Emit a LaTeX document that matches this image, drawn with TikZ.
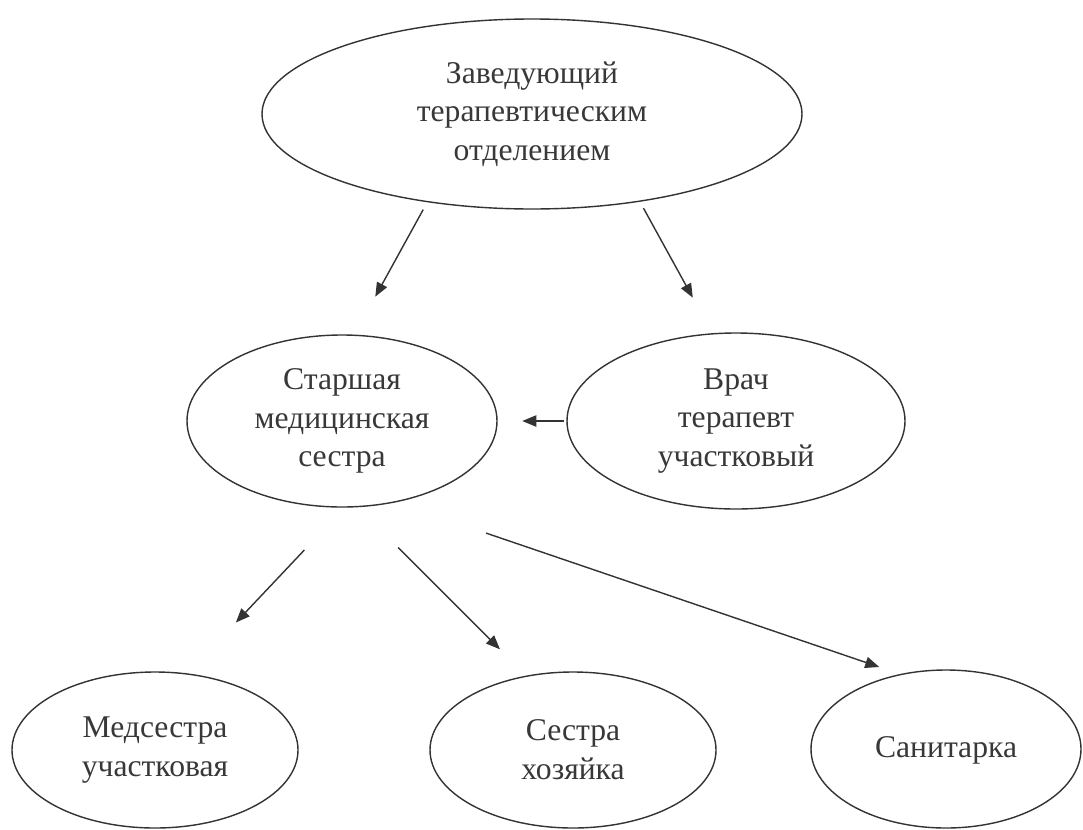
\documentclass[tikz,border=0pt]{standalone}
\usepackage{fontspec}
\setmainfont{Liberation Serif}
\usetikzlibrary{shapes.geometric,arrows.meta}

\begin{document}
\begin{tikzpicture}[x=0.025cm,y=-0.025cm,
    oval/.style={draw=black!80,line width=1pt,ellipse,inner sep=0pt,outer sep=0pt,
        align=center,text=black!78,font=\fontsize{22.5}{27.5}\selectfont},
    arr/.style={draw=black!80,line width=1pt,-{Triangle[length=10pt,width=8pt]}}]
            \useasboundingbox (0,0) rectangle (1083,829);
            \node[oval,minimum width=540*0.025cm,minimum height=190*0.025cm] (head) at (532,114) {Заведующий\\терапевтическим\\отделением};
            \node[oval,minimum width=310*0.025cm,minimum height=172*0.025cm] (senior) at (342,421) {Старшая\\медицинская\\сестра};
            \node[oval,minimum width=338*0.025cm,minimum height=176*0.025cm] (doctor) at (736,421) {Врач\\терапевт\\участковый};
            \node[oval,minimum width=286*0.025cm,minimum height=156*0.025cm] (nurse) at (155,750) {Медсестра\\участковая};
            \node[oval,minimum width=286*0.025cm,minimum height=156*0.025cm] (house) at (573,750) {Сестра\\хозяйка};
            \node[oval,minimum width=270*0.025cm,minimum height=158*0.025cm,text height=1.36em,text depth=0.22em] (orderly) at (946,749) {Санитарка};
            \draw[arr,shorten <=0.23cm,shorten >=1.1cm] (head.220.6) -- (senior.82.5);
            \draw[arr,shorten <=0.2cm,shorten >=1.03cm] (head.321.2) -- (doctor.105.8);
            \draw[arr,shorten <=0.08cm,shorten >=0.63cm] (doctor.west) -- (senior.east);
            \draw[arr,shorten <=1.48cm,shorten >=1.77cm] (senior.272.9) -- (nurse.67.3);
            \draw[arr,shorten <=1.45cm,shorten >=0.95cm] (senior.280.1) -- (house.122.3);
            \draw[arr,shorten <=2.42cm,shorten >=0.58cm] (senior.303) -- (orderly.121.1);
        \end{tikzpicture}
\end{document}
